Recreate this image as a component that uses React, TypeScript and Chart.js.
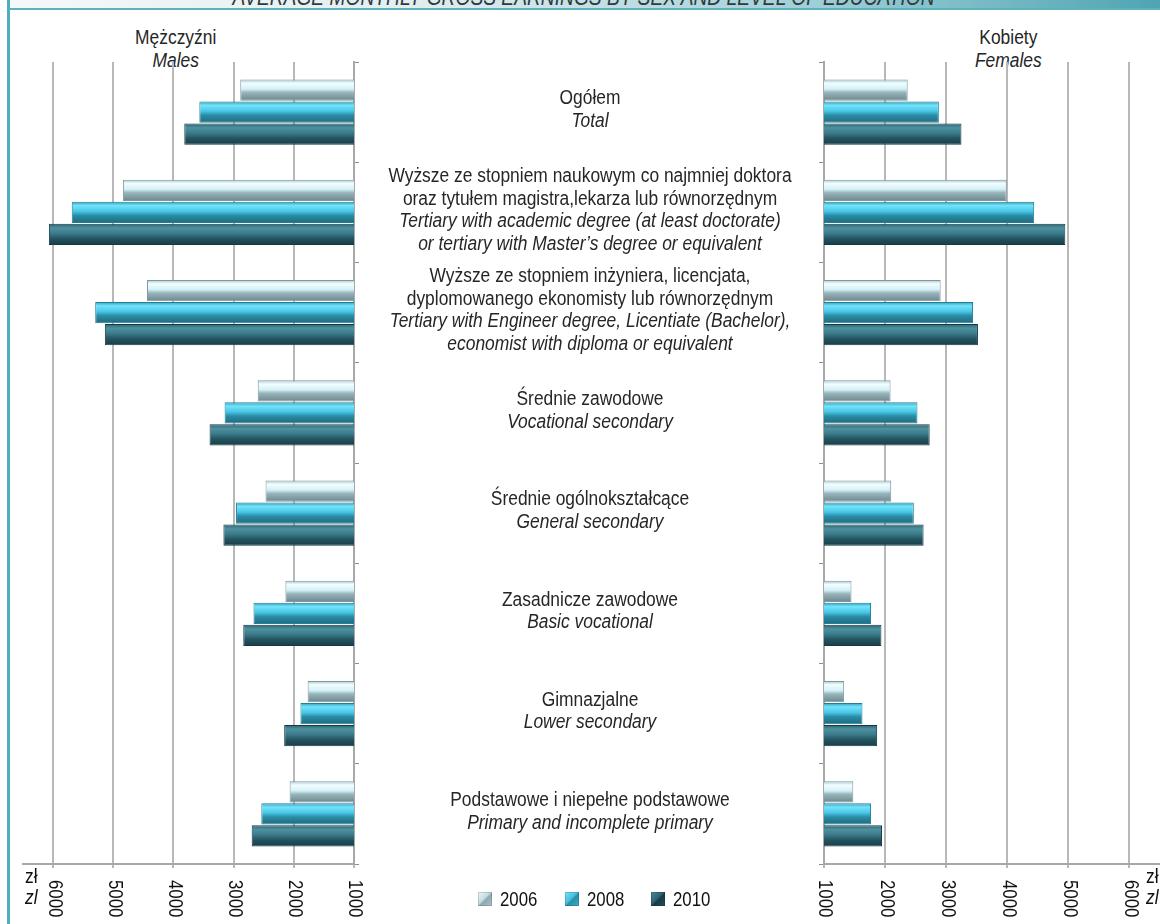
import React, { useEffect, useRef } from "react";
import { Chart, registerables } from "chart.js";

Chart.register(...registerables);

// ---------- data ----------
const CATEGORIES_PL: string[][] = [
  ["Ogółem"],
  ["Wyższe ze stopniem naukowym co najmniej doktora", "oraz tytułem magistra,lekarza lub równorzędnym"],
  ["Wyższe ze stopniem inżyniera, licencjata,", "dyplomowanego ekonomisty lub równorzędnym"],
  ["Średnie zawodowe"],
  ["Średnie ogólnokształcące"],
  ["Zasadnicze zawodowe"],
  ["Gimnazjalne"],
  ["Podstawowe i niepełne podstawowe"],
];
const CATEGORIES_EN: string[][] = [
  ["Total"],
  ["Tertiary with academic degree (at least doctorate)", "or tertiary with Master’s degree or equivalent"],
  ["Tertiary with Engineer degree, Licentiate (Bachelor),", "economist with diploma or equivalent"],
  ["Vocational secondary"],
  ["General secondary"],
  ["Basic vocational"],
  ["Lower secondary"],
  ["Primary and incomplete primary"],
];
const SERIES_LABELS = ["2006", "2008", "2010"];

const MALES_2006 = [2890, 4840, 4440, 2600, 2470, 2140, 1770, 2070];
const MALES_2008 = [3570, 5690, 5300, 3150, 2960, 2670, 1890, 2540];
const MALES_2010 = [3820, 6070, 5140, 3400, 3170, 2840, 2160, 2700];

const FEMALES_2006 = [2370, 3990, 2910, 2090, 2100, 1450, 1330, 1480];
const FEMALES_2008 = [2880, 4440, 3440, 2530, 2470, 1770, 1630, 1770];
const FEMALES_2010 = [3250, 4950, 3520, 2730, 2630, 1940, 1870, 1950];

const TICK_VALUES = [1000, 2000, 3000, 4000, 5000, 6000];
const TICK_LABELS = ["1000", "2000", "3000", "4000", "5000", "6000"];

// ---------- style ----------
const FONT = "'Liberation Sans', Arial, sans-serif";
const SX = 0.87; // horizontal condensing to mimic a narrow face
const CAT_PCT = 0.66;
const BAR_PCT = 0.96;
const CAT_FONT = 20;
const LINE_H = 22.5;

const STOPS: [number, string][][] = [
  [[0, "#a9c6cd"], [0.18, "#f2fdff"], [0.45, "#d3f1f7"], [0.62, "#98b3ba"], [1, "#6e878e"]],
  [[0, "#2e9fbc"], [0.18, "#74e3fb"], [0.45, "#48c6e6"], [0.65, "#2a8ca6"], [1, "#1f6a7d"]],
  [[0, "#2a6676"], [0.2, "#4f909f"], [0.45, "#3a7a8a"], [0.7, "#24535f"], [1, "#173d47"]],
];
const BORDERS = ["#7f989e", "#237e96", "#143844"];
const MID = ["#c7e6ec", "#45c2e1", "#336f7e"];

function barFill(series: number) {
  return (c: any) => {
    const chart = c.chart;
    const y = chart.scales && chart.scales.y;
    if (!y || c.type !== "data") return MID[series];
    const n = CATEGORIES_PL.length;
    const pitch = (y.bottom - y.top) / n;
    const center = y.getPixelForValue(c.dataIndex);
    const chunk = (pitch * CAT_PCT) / 3;
    const h = chunk * BAR_PCT;
    const cy = center + (series - 1) * chunk;
    if (!isFinite(cy) || !isFinite(h) || h <= 0) return MID[series];
    const g = chart.ctx.createLinearGradient(0, cy - h / 2, 0, cy + h / 2);
    STOPS[series].forEach(([o, col]) => g.addColorStop(o, col));
    return g;
  };
}

const tickLabelPlugin = {
  id: "rotTicks",
  afterDraw(chart: any) {
    const x = chart.scales.x;
    const ctx = chart.ctx;
    ctx.save();
    ctx.fillStyle = "#111";
    ctx.font = `20px ${FONT}`;
    ctx.textAlign = "left";
    ctx.textBaseline = "middle";
    x.ticks.forEach((t: any, i: number) => {
      const px = x.getPixelForValue(t.value);
      ctx.save();
      ctx.translate(px + 1, x.top + 16);
      ctx.rotate(Math.PI / 2);
      ctx.scale(0.84, 1);
      ctx.fillText(TICK_LABELS[i], 0, 0);
      ctx.restore();
    });
    ctx.restore();
  },
};

const LABEL_X = 590;
const categoryLabelPlugin = {
  id: "catLabels",
  afterDraw(chart: any) {
    const y = chart.scales.y;
    const ctx = chart.ctx;
    ctx.save();
    ctx.fillStyle = "#262626";
    ctx.textAlign = "center";
    ctx.textBaseline = "middle";
    CATEGORIES_PL.forEach((pl, i) => {
      const lines: [string, boolean][] = [
        ...pl.map((t) => [t, false] as [string, boolean]),
        ...CATEGORIES_EN[i].map((t) => [t, true] as [string, boolean]),
      ];
      const cy = y.getPixelForValue(i) - 2;
      const start = cy - ((lines.length - 1) * LINE_H) / 2;
      lines.forEach(([t, it], k) => {
        ctx.font = `${it ? "italic " : ""}${CAT_FONT}px ${FONT}`;
        ctx.save();
        ctx.translate(LABEL_X, start + k * LINE_H);
        ctx.scale(SX, 1);
        ctx.fillText(t, 0, 0);
        ctx.restore();
      });
    });
    ctx.restore();
  },
};

function makeConfig(side: "left" | "right", series: number[][]) {
  const left = side === "left";
  return {
    type: "bar" as const,
    data: {
      labels: CATEGORIES_PL.map((c) => c[0]),
      datasets: series.map((vals, s) => ({
        label: SERIES_LABELS[s],
        data: vals,
        backgroundColor: barFill(s),
        borderColor: BORDERS[s],
        borderWidth: 1,
        categoryPercentage: CAT_PCT,
        barPercentage: BAR_PCT,
      })),
    },
    options: {
      indexAxis: "y" as const,
      responsive: false,
      animation: false as const,
      devicePixelRatio: 1,
      layout: { padding: { left: left ? 23 : 0, right: 0, top: 62, bottom: 0 } },
      plugins: { legend: { display: false }, tooltip: { enabled: false }, title: { display: false } },
      scales: {
        x: {
          type: "linear" as const,
          reverse: left,
          min: 1000,
          max: 6500,
          afterBuildTicks: (s: any) => {
            s.ticks = TICK_VALUES.map((v) => ({ value: v }));
          },
          afterFit: (s: any) => {
            s.height = 60;
          },
          ticks: { display: false },
          grid: { color: "#b8b8b8", lineWidth: 2, tickLength: 4, drawTicks: true },
          border: { display: true, color: "#a8a8a8", width: 2 },
        },
        y: {
          type: "category" as const,
          position: left ? ("right" as const) : ("left" as const),
          afterFit: (s: any) => {
            s.width = left ? 820 - 354 : 44;
          },
          ticks: { display: false },
          grid: { drawOnChartArea: false, drawTicks: true, tickLength: 5, color: "#8f8f8f", lineWidth: 1, offset: true },
          border: { display: true, color: "#a8a8a8", width: 2 },
        },
      },
    },
    plugins: left ? [tickLabelPlugin, categoryLabelPlugin] : [tickLabelPlugin],
  };
}

const LEGEND_ICON = [
  "linear-gradient(135deg, #e8f8fb 0%, #c4dde3 45%, #8ea9b0 55%, #a9c3c9 100%)",
  "linear-gradient(135deg, #7fe3f8 0%, #45c2e1 45%, #2a8ea8 55%, #3aaecb 100%)",
  "linear-gradient(135deg, #4c8a99 0%, #2c6372 45%, #163b46 55%, #24505c 100%)",
];

const cond = (s: number, origin = "center"): React.CSSProperties => ({
  display: "inline-block",
  transform: `scaleX(${s})`,
  transformOrigin: origin,
});

export default function App() {
  const leftRef = useRef<HTMLCanvasElement>(null);
  const rightRef = useRef<HTMLCanvasElement>(null);

  useEffect(() => {
    document.body.style.margin = "0";
    document.body.style.overflow = "hidden";
    const l = new Chart(leftRef.current!, makeConfig("left", [MALES_2006, MALES_2008, MALES_2010]) as any);
    const r = new Chart(rightRef.current!, makeConfig("right", [FEMALES_2006, FEMALES_2008, FEMALES_2010]) as any);
    return () => {
      l.destroy();
      r.destroy();
    };
  }, []);

  const txt: React.CSSProperties = { position: "absolute", fontFamily: FONT, fontSize: 20, color: "#262626", whiteSpace: "nowrap" };

  return (
    <div style={{ position: "absolute", left: 0, top: 0, width: 1160, height: 924, overflow: "hidden", background: "#fff", fontFamily: FONT }}>
      {/* title band */}
      <div style={{ position: "absolute", left: 10, top: 0, width: 1150, height: 8, background: "linear-gradient(to right, #f5f8f9 0%, #e2eef0 35%, #9fcfd6 70%, #4fa5b3 100%)" }} />
      <div style={{ position: "absolute", left: 0, top: 0, width: 1160, height: 8, overflow: "hidden" }}>
        <div style={{ position: "absolute", left: 4, width: 1160, top: -14, textAlign: "center", lineHeight: "23px", fontSize: 23, fontStyle: "italic", color: "#2f3a3c", fontFamily: FONT, whiteSpace: "nowrap" }}>
          <span style={cond(0.835)}>AVERAGE MONTHLY GROSS EARNINGS BY SEX AND LEVEL OF EDUCATION</span>
        </div>
      </div>
      <div style={{ position: "absolute", left: 10, top: 8, width: 1150, height: 2, background: "#5db2bf" }} />
      <div style={{ position: "absolute", left: 7, top: 0, width: 3, height: 924, background: "#4fadbc" }} />

      {/* headers */}
      <div style={{ ...txt, left: 76, top: 26, width: 200, textAlign: "center", lineHeight: "23px" }}>
        <span style={cond(SX)}>Mężczyźni</span>
        <br />
        <span style={{ ...cond(SX), fontStyle: "italic" }}>Males</span>
      </div>
      <div style={{ ...txt, left: 908, top: 26, width: 200, textAlign: "center", lineHeight: "23px" }}>
        <span style={cond(SX)}>Kobiety</span>
        <br />
        <span style={{ ...cond(SX), fontStyle: "italic" }}>Females</span>
      </div>

      <canvas ref={leftRef} width={820} height={924} style={{ position: "absolute", left: 0, top: 0, width: 820, height: 924 }} />
      <canvas ref={rightRef} width={380} height={924} style={{ position: "absolute", left: 780, top: 0, width: 380, height: 924 }} />

      {/* currency labels */}
      <div style={{ ...txt, left: 21, top: 866, width: 20, textAlign: "center", lineHeight: "21px", color: "#111" }}>
        <span style={cond(SX)}>zł</span>
        <br />
        <span style={{ ...cond(SX), fontStyle: "italic" }}>zl</span>
      </div>
      <div style={{ ...txt, left: 1142, top: 866, width: 20, textAlign: "center", lineHeight: "21px", color: "#111" }}>
        <span style={cond(SX)}>zł</span>
        <br />
        <span style={{ ...cond(SX), fontStyle: "italic" }}>zl</span>
      </div>

      {/* legend */}
      {SERIES_LABELS.map((s, i) => (
        <div key={s} style={{ position: "absolute", left: 478 + i * 86.5, top: 887, height: 24, display: "flex", alignItems: "center" }}>
          <div style={{ width: 14, height: 14, background: LEGEND_ICON[i], boxShadow: "inset 0 0 0 1px rgba(0,0,0,0.15)" }} />
          <span style={{ marginLeft: 8, fontFamily: FONT, fontSize: 20, color: "#111", lineHeight: "24px", ...cond(0.84, "left center") }}>{s}</span>
        </div>
      ))}
    </div>
  );
}
